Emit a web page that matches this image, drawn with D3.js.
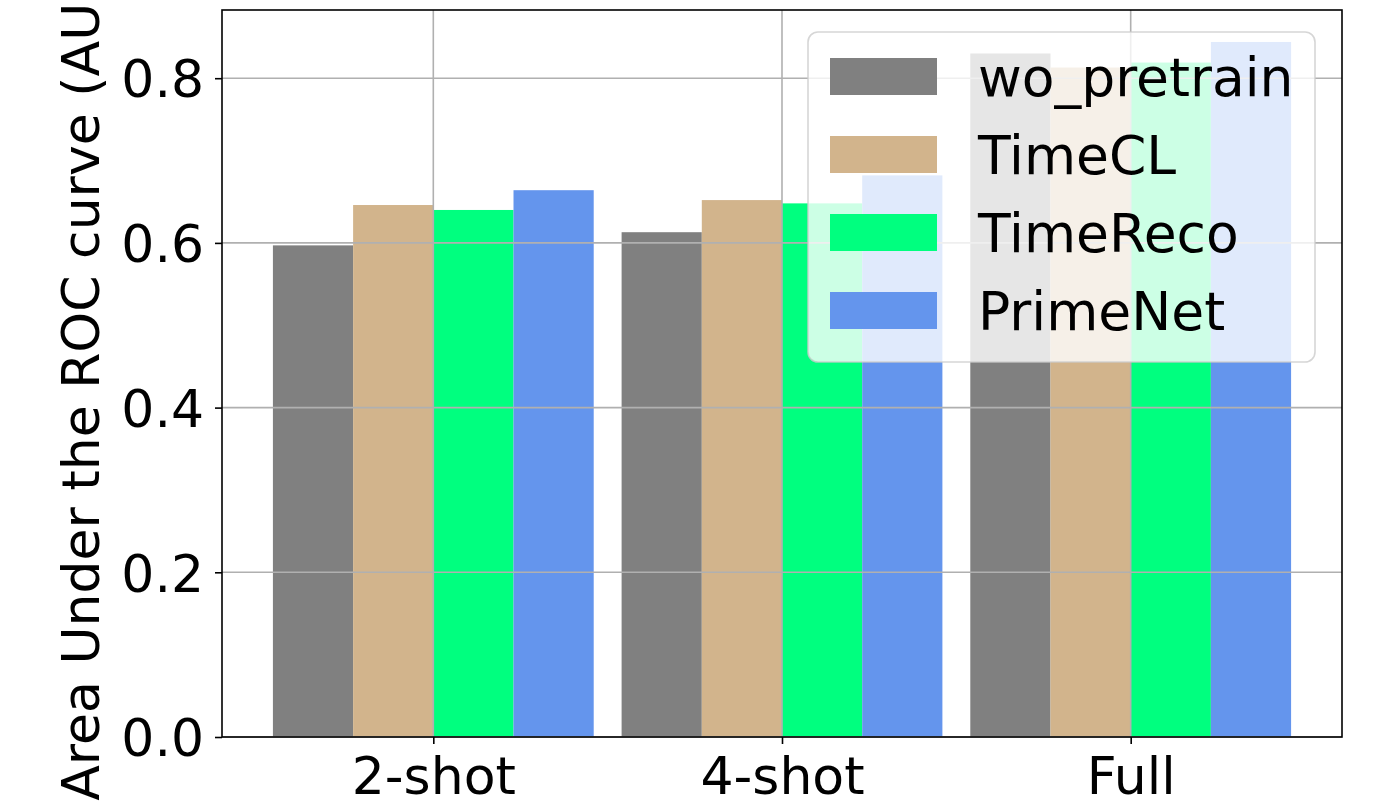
<!DOCTYPE html>
<html>
<head>
<meta charset="utf-8">
<script src="https://cdn.jsdelivr.net/npm/d3@7"></script>
<style>
  html, body { margin: 0; padding: 0; background: #fff; }
  svg { display: block; font-family: "DejaVu Sans", sans-serif; }
</style>
</head>
<body>
<svg id="chart" width="1380" height="808"></svg>
<script>
// Few-shot AUC per pretraining method
const categories = ["2-shot", "4-shot", "Full"];
const seriesNames = ["wo_pretrain", "TimeCL", "TimeReco", "PrimeNet"];
const woPretrain = [0.597, 0.613, 0.830];
const timeCL     = [0.646, 0.652, 0.813];
const timeReco   = [0.640, 0.648, 0.819];
const primeNet   = [0.664, 0.682, 0.844];
const yTicks = [0.0, 0.2, 0.4, 0.6, 0.8];
const seriesColors = ["#808080", "#D2B48C", "#00FF7F", "#6495ED"];

const seriesValues = [woPretrain, timeCL, timeReco, primeNet];

const svg = d3.select("#chart");
const plot = { left: 222, right: 1342, top: 10, bottom: 737 };
const fontSize = 52;

// bar geometry in category units
const barWidth = 0.23;
const nSeries = seriesNames.length;
const span = (categories.length - 1) + nSeries * barWidth;
const pad = span * 0.05;
const lo = -nSeries * barWidth / 2 - pad;
const hi = (categories.length - 1) + nSeries * barWidth / 2 + pad;

const x = d3.scaleLinear().domain([lo, hi]).range([plot.left, plot.right]);
const yMax = d3.max(seriesValues.flat()) * 1.046;
const y = d3.scaleLinear().domain([0, yMax]).range([plot.bottom, plot.top]);

// bars
const barData = [];
seriesValues.forEach((vals, j) => {
  vals.forEach((v, i) => {
    barData.push({ i, j, v });
  });
});
svg.append("g").selectAll("rect")
  .data(barData)
  .join("rect")
  .attr("x", d => x(d.i + (d.j - nSeries / 2) * barWidth))
  .attr("width", d => x(barWidth) - x(0))
  .attr("y", d => y(d.v))
  .attr("height", d => y(0) - y(d.v))
  .attr("fill", d => seriesColors[d.j]);

// grid (drawn above the bars)
const grid = svg.append("g").attr("stroke", "#b0b0b0").attr("stroke-width", 1.6);
grid.selectAll("line.h").data(yTicks).join("line")
  .attr("class", "h")
  .attr("x1", plot.left).attr("x2", plot.right)
  .attr("y1", d => y(d)).attr("y2", d => y(d));
grid.selectAll("line.v").data(categories.map((c, i) => i)).join("line")
  .attr("class", "v")
  .attr("x1", d => x(d)).attr("x2", d => x(d))
  .attr("y1", plot.top).attr("y2", plot.bottom);

// axes
const yAxis = d3.axisLeft(y).tickValues(yTicks).tickFormat(d3.format(".1f"))
  .tickSize(7).tickPadding(11);
const gy = svg.append("g").attr("transform", `translate(${plot.left},0)`).call(yAxis);
const xAxis = d3.axisBottom(x).tickValues(categories.map((c, i) => i))
  .tickFormat(i => categories[i]).tickSize(7).tickPadding(9);
const gx = svg.append("g").attr("transform", `translate(0,${plot.bottom})`).call(xAxis);
[gx, gy].forEach(g => {
  g.select(".domain").remove();
  g.selectAll(".tick line").attr("stroke", "#000").attr("stroke-width", 1.6);
  g.selectAll(".tick text").attr("font-size", fontSize).attr("fill", "#000")
    .attr("font-family", "DejaVu Sans");
});
gx.selectAll(".tick text").attr("dy", "0.78em");
gy.selectAll(".tick text").attr("dy", "0.36em");

// frame
svg.append("rect")
  .attr("x", plot.left).attr("y", plot.top)
  .attr("width", plot.right - plot.left).attr("height", plot.bottom - plot.top)
  .attr("fill", "none").attr("stroke", "#000").attr("stroke-width", 1.6);

// y-axis title
svg.append("text")
  .attr("transform", `translate(99,${(plot.top + plot.bottom) / 2}) rotate(-90)`)
  .attr("text-anchor", "middle")
  .attr("font-size", fontSize)
  .text("Area Under the ROC curve (AUC)");

// legend
const legend = svg.append("g").attr("transform", "translate(808,32)");
legend.append("rect")
  .attr("width", 507).attr("height", 330)
  .attr("rx", 10).attr("ry", 10)
  .attr("fill", "#fff").attr("fill-opacity", 0.8)
  .attr("stroke", "#cccccc").attr("stroke-opacity", 0.8).attr("stroke-width", 1.6);
const rows = legend.selectAll("g.row").data(seriesNames).join("g")
  .attr("class", "row")
  .attr("transform", (d, k) => `translate(22,${26 + k * 78})`);
rows.append("rect")
  .attr("width", 107).attr("height", 37)
  .attr("fill", (d, k) => seriesColors[k]);
rows.append("text")
  .attr("x", 148).attr("y", 38)
  .attr("font-size", 53.5)
  .text(d => d);
</script>
</body>
</html>
